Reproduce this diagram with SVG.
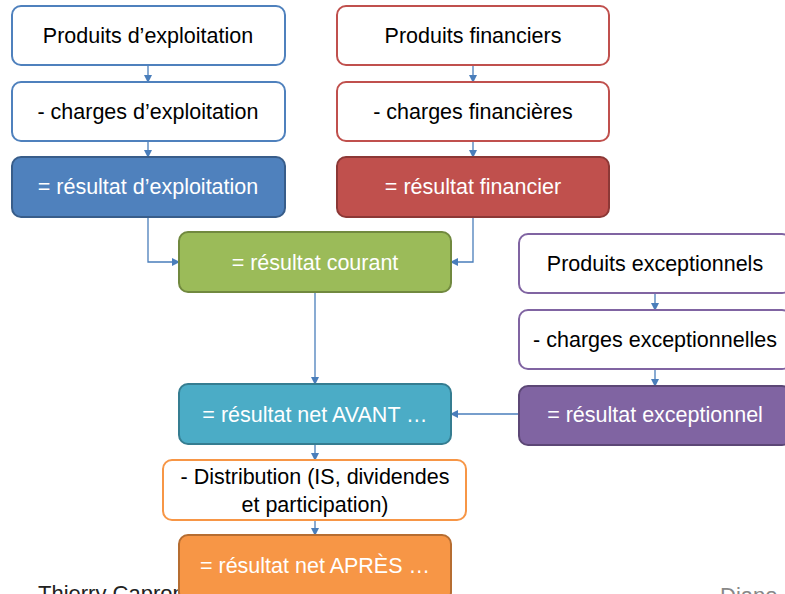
<svg xmlns="http://www.w3.org/2000/svg" width="785" height="594" viewBox="0 0 785 594">
<defs>
<marker id="ah" markerWidth="8" markerHeight="8" refX="7" refY="4" orient="auto" markerUnits="userSpaceOnUse">
<path d="M0,0 L8,4 L0,8 z" fill="#4A7EBB"/>
</marker>
<style>
text{font-family:"Liberation Sans",Arial,sans-serif;font-size:21.5px;text-anchor:middle;dominant-baseline:central}
.dk{fill:#000}
.wt{fill:#fff}
.ft{text-anchor:start;dominant-baseline:alphabetic;font-size:22px}
rect{stroke-width:2}
.conn path{fill:none;stroke:#4A7EBB;stroke-width:1.3;marker-end:url(#ah)}
</style>
</defs>
<rect width="785" height="594" fill="#fff"/>
<text class="ft" x="38" y="601" fill="#222">Thierry Capron</text>
<text class="ft" x="720" y="603" fill="#888">Diapo</text>
<g class="conn">
<path d="M148,65 V82"/>
<path d="M148,141 V157"/>
<path d="M473,65 V82"/>
<path d="M473,141 V157"/>
<path d="M148,217 V262 H179"/>
<path d="M473,217 V262 H451"/>
<path d="M315,292 V384"/>
<path d="M655,293 V310"/>
<path d="M655,369 V386"/>
<path d="M518,414 H451"/>
<path d="M315,444 V460"/>
<path d="M315,520 V535"/>
</g>
<g id="n1"><rect x="12" y="6" width="273" height="59" rx="9" fill="#fff" stroke="#4F81BD"/><text class="dk" x="148" y="36">Produits d’exploitation</text></g>
<g id="n2"><rect x="12" y="82" width="273" height="59" rx="9" fill="#fff" stroke="#4F81BD"/><text class="dk" x="148" y="112">- charges d’exploitation</text></g>
<g id="n3"><rect x="12" y="157" width="273" height="60" rx="9" fill="#4F81BD" stroke="#385D8A"/><text class="wt" x="148" y="187">= résultat d’exploitation</text></g>
<g id="n4"><rect x="337" y="6" width="272" height="59" rx="9" fill="#fff" stroke="#C0504D"/><text class="dk" x="473" y="36">Produits financiers</text></g>
<g id="n5"><rect x="337" y="82" width="272" height="59" rx="9" fill="#fff" stroke="#C0504D"/><text class="dk" x="473" y="112">- charges financières</text></g>
<g id="n6"><rect x="337" y="157" width="272" height="60" rx="9" fill="#C0504D" stroke="#8C3836"/><text class="wt" x="473" y="187">= résultat financier</text></g>
<g id="n7"><rect x="179" y="232" width="272" height="60" rx="9" fill="#9BBB59" stroke="#71893F"/><text class="wt" x="315" y="263">= résultat courant</text></g>
<g id="n8"><rect x="519" y="234" width="272" height="59" rx="9" fill="#fff" stroke="#8064A2"/><text class="dk" x="655" y="264">Produits exceptionnels</text></g>
<g id="n9"><rect x="519" y="310" width="272" height="59" rx="9" fill="#fff" stroke="#8064A2"/><text class="dk" x="655" y="340">- charges exceptionnelles</text></g>
<g id="n10"><rect x="519" y="386" width="272" height="59" rx="9" fill="#8064A2" stroke="#5C4776"/><text class="wt" x="655" y="415">= résultat exceptionnel</text></g>
<g id="n11"><rect x="179" y="384" width="272" height="60" rx="9" fill="#4BACC6" stroke="#357D91"/><text class="wt" x="315" y="415">= résultat net AVANT …</text></g>
<g id="n12"><rect x="163" y="460" width="303" height="60" rx="9" fill="#fff" stroke="#F79646"/><text class="dk" x="315" y="477">- Distribution (IS, dividendes</text><text class="dk" x="315" y="505">et participation)</text></g>
<g id="n13"><rect x="179" y="535" width="272" height="66" rx="9" fill="#F79646" stroke="#B66D31"/><text class="wt" x="315" y="566">= résultat net APRÈS …</text></g>
</svg>
